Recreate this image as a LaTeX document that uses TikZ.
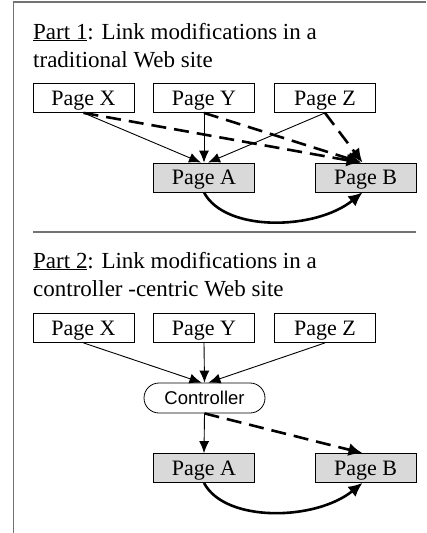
\documentclass[tikz,border=0pt]{standalone}
\usepackage{fontspec}
\setmainfont{Liberation Serif}
\newfontfamily\ctrlfont{Liberation Sans}
\usetikzlibrary{arrows.meta}

\begin{document}
\begin{tikzpicture}
                [
                x=1pt,y=-1pt,
                page/.style={rectangle,draw,line width=0.8pt,minimum width=101pt,minimum height=29pt,inner sep=0pt,text depth=0pt,font=\fontsize{22}{26}\selectfont},
                target/.style={page,fill=black!15},
                ctrl/.style={rectangle,rounded corners=15pt,draw,line width=0.8pt,minimum width=121pt,minimum height=30pt,inner sep=0pt,font=\ctrlfont\fontsize{18.5}{22}\selectfont},
                title/.style={anchor=base west,inner sep=0pt,font=\fontsize{23}{28}\selectfont},
                edge/.style={->,> = {Latex[length=12pt,width=10pt]},line width=0.9pt},
                link/.style={->,> = {Latex[length=14pt,width=13pt]},line width=2.6pt},
                newlink/.style={link,dash pattern=on 15pt off 8pt}
                ]
            \useasboundingbox (0,0) rectangle (426,533);
            \draw[black!55,line width=1.6pt] (426,2) -- (13.5,2) -- (13.5,533);
            \draw[black!55,line width=1.3pt] (33,232) -- (416,232);
            % part 1
            \node[title] (t1) at (33,39) {\underline{Part 1}: Link modifications in a};
            \node[title] (t2) at (33,67) {traditional Web site};
            \node[page] (x1) at (83.5,98) {Page X};
            \node[page] (y1) at (204,98) {Page Y};
            \node[page] (z1) at (325,98) {Page Z};
            \node[target] (a1) at (204,177.5) {Page A};
            \node[target] (b1) at (365.5,177.5) {Page B};
            \draw[edge] (x1.south) -- ([xshift=-3pt]a1.north);
            \draw[edge] (y1.south) -- (a1.north);
            \draw[edge] (z1.south) -- ([xshift=4pt]a1.north);
            \draw[newlink] (x1.south) -- ([xshift=-5pt]b1.north);
            \draw[newlink] (y1.south) -- ([xshift=-4pt]b1.north);
            \draw[newlink] (z1.south) -- ([xshift=-3pt]b1.north);
            \draw[link] (a1.south) .. controls +(21,40) and +(-47,38) .. ([xshift=-3pt]b1.south);
            % part 2
            \node[title] (t3) at (33,268) {\underline{Part 2}: Link modifications in a};
            \node[title] (t4) at (33,296) {controller -centric Web site};
            \node[page] (x2) at (83.5,328) {Page X};
            \node[page] (y2) at (204,328) {Page Y};
            \node[page] (z2) at (325,328) {Page Z};
            \node[ctrl] (c2) at (204.5,398) {Controller};
            \node[target] (a2) at (204,468) {Page A};
            \node[target] (b2) at (365.5,468) {Page B};
            \draw[edge] (x2.south) -- ([xshift=-3pt]c2.north);
            \draw[edge] (y2.south) -- (c2.north);
            \draw[edge] (z2.south) -- ([xshift=4pt]c2.north);
            \draw[edge] (c2.south) -- (a2.north);
            \draw[newlink] (c2.south) -- ([xshift=-3pt]b2.north);
            \draw[link] (a2.south) .. controls +(21,40) and +(-47,38) .. ([xshift=-3pt]b2.south);
            \end{tikzpicture}
\end{document}
